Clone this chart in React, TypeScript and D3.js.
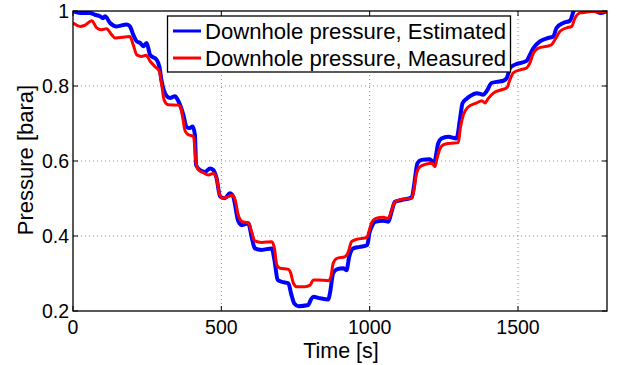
import React from "react";
import * as d3 from "d3";

const measTime = [0,24,40,63,80,97,113,130,142,192,203,215,231,246,260,276,291,299,307,321,355,362,370,378,389,406,415,423,439,456,473,484,493,504,524,535,546,557,571,591,602,613,636,670,679,687,698,726,734,743,754,782,799,810,827,861,869,877,889,917,928,939,956,990,999,1007,1020,1046,1063,1074,1085,1108,1142,1149,1158,1170,1192,1209,1220,1226,1235,1248,1271,1299,1306,1316,1332,1361,1378,1389,1400,1417,1445,1462,1473,1484,1512,1529,1540,1552,1569,1597,1613,1625,1642,1664,1681,1692,1709,1732,1748,1800];
const measValue = [0.968,0.959,0.962,0.974,0.955,0.950,0.953,0.937,0.928,0.932,0.910,0.883,0.879,0.882,0.866,0.852,0.839,0.803,0.763,0.750,0.749,0.745,0.715,0.680,0.670,0.666,0.594,0.576,0.569,0.563,0.567,0.554,0.514,0.501,0.505,0.509,0.498,0.456,0.438,0.435,0.412,0.387,0.383,0.385,0.367,0.323,0.314,0.311,0.301,0.274,0.265,0.265,0.269,0.283,0.283,0.281,0.291,0.327,0.340,0.345,0.358,0.385,0.391,0.396,0.416,0.436,0.447,0.450,0.447,0.469,0.491,0.498,0.501,0.523,0.567,0.585,0.592,0.594,0.585,0.603,0.629,0.643,0.647,0.649,0.690,0.723,0.744,0.755,0.761,0.755,0.767,0.781,0.790,0.795,0.817,0.835,0.844,0.848,0.861,0.888,0.901,0.906,0.910,0.924,0.946,0.955,0.959,0.981,0.995,0.997,0.999,0.999];

const estTime = [0,24,57,74,91,101,108,125,147,181,192,203,215,226,237,248,260,282,291,299,310,327,344,355,372,383,394,403,411,415,428,445,462,473,484,496,512,529,540,557,569,591,602,613,636,670,679,690,703,726,735,746,760,793,801,810,833,861,866,877,889,911,922,931,945,967,992,999,1007,1018,1046,1063,1074,1085,1108,1142,1149,1161,1175,1203,1217,1231,1242,1265,1293,1304,1313,1327,1338,1361,1383,1394,1411,1428,1451,1462,1473,1490,1529,1540,1552,1574,1602,1619,1630,1653,1675,1692,1720,1760,1780,1800];
const estValue = [1.0,0.995,0.995,0.990,0.986,0.981,0.986,0.968,0.959,0.964,0.959,0.937,0.919,0.915,0.906,0.915,0.883,0.870,0.852,0.812,0.781,0.768,0.773,0.760,0.723,0.690,0.688,0.692,0.670,0.589,0.576,0.571,0.580,0.576,0.554,0.505,0.501,0.514,0.505,0.440,0.429,0.434,0.398,0.367,0.363,0.367,0.336,0.283,0.278,0.274,0.247,0.220,0.213,0.216,0.229,0.238,0.234,0.231,0.247,0.301,0.311,0.314,0.309,0.345,0.367,0.371,0.376,0.407,0.425,0.438,0.441,0.438,0.465,0.491,0.496,0.503,0.531,0.594,0.603,0.605,0.594,0.647,0.660,0.665,0.660,0.709,0.754,0.766,0.773,0.781,0.777,0.786,0.808,0.811,0.814,0.821,0.848,0.857,0.867,0.883,0.901,0.919,0.928,0.932,0.955,0.968,0.974,1.005,1.005,1.0,0.995,1.0];

const xTicks = [0, 500, 1000, 1500];
const yTicks = [0.2, 0.4, 0.6, 0.8, 1];
const xTickLabels = ["0", "500", "1000", "1500"];
const yTickLabels = ["0.2", "0.4", "0.6", "0.8", "1"];
const seriesNames = ["Downhole pressure, Estimated", "Downhole pressure, Measured"];
const seriesColors = ["#0000ff", "#ff0000"];

const W = 622, H = 365;
const L = 73, R = 607, T = 11, B = 311;
const FONT = "'Liberation Sans', Arial, Helvetica, sans-serif";

export default function App() {
  const x = d3.scaleLinear().domain([0, 1800]).range([L, R]);
  const y = d3.scaleLinear().domain([0.2, 1]).range([B, T]);
  const line = d3.line<[number, number]>().x(d => x(d[0])).y(d => y(d[1])).curve(d3.curveMonotoneX);
  const est = line(estTime.map((t, i) => [t, estValue[i]] as [number, number])) || "";
  const meas = line(measTime.map((t, i) => [t, measValue[i]] as [number, number])) || "";
  const tickLen = 5;
  return (
    <div style={{ position: "absolute", left: 0, top: 0 }}>
      <svg width={W} height={H} style={{ display: "block", background: "#fff" }} fontFamily={FONT}>
        <defs>
          <clipPath id="plotclip">
            <rect x={L} y={T} width={R - L} height={B - T} />
          </clipPath>
        </defs>
        <rect x={0} y={0} width={W} height={H} fill="#fff" />
        {xTicks.filter(t => t > 0).map(t => (
          <line key={"gx" + t} x1={x(t)} x2={x(t)} y1={T} y2={B} stroke="#8c8c8c" strokeWidth={1} strokeDasharray="1,3" />
        ))}
        {yTicks.filter(t => t > 0.2 && t < 1).map(t => (
          <line key={"gy" + t} x1={L} x2={R} y1={y(t)} y2={y(t)} stroke="#8c8c8c" strokeWidth={1} strokeDasharray="1,3" />
        ))}
        <g clipPath="url(#plotclip)">
          <path d={est} fill="none" stroke={seriesColors[0]} strokeWidth={4} strokeLinejoin="round" />
          <path d={meas} fill="none" stroke={seriesColors[1]} strokeWidth={3} strokeLinejoin="round" />
        </g>
        <rect x={L} y={T} width={R - L} height={B - T} fill="none" stroke="#000" strokeWidth={1.3} />
        {xTicks.map(t => (
          <g key={"tx" + t}>
            <line x1={x(t)} x2={x(t)} y1={B} y2={B - tickLen} stroke="#000" />
            <line x1={x(t)} x2={x(t)} y1={T} y2={T + tickLen} stroke="#000" />
          </g>
        ))}
        {yTicks.map(t => (
          <g key={"ty" + t}>
            <line x1={L} x2={L + tickLen} y1={y(t)} y2={y(t)} stroke="#000" />
            <line x1={R} x2={R - tickLen} y1={y(t)} y2={y(t)} stroke="#000" />
          </g>
        ))}
        {xTicks.map((t, i) => (
          <text key={"lx" + t} x={x(t)} y={334} textAnchor="middle" fontSize={19.5} fill="#000">{xTickLabels[i]}</text>
        ))}
        {yTicks.map((t, i) => (
          <text key={"ly" + t} x={69} y={y(t) + 7} textAnchor="end" fontSize={19.5} fill="#000">{yTickLabels[i]}</text>
        ))}
        <text x={341} y={357.5} textAnchor="middle" fontSize={21.5} fill="#000">Time [s]</text>
        <text transform={`translate(33,160) rotate(-90)`} textAnchor="middle" fontSize={22} fill="#000">Pressure [bara]</text>
        <rect x={167.5} y={16} width={343} height={56} fill="#fff" stroke="#000" strokeWidth={1.3} />
        {seriesNames.map((n, i) => (
          <g key={n}>
            <line x1={173} x2={201} y1={31 + i * 27} y2={31 + i * 27} stroke={seriesColors[i]} strokeWidth={3} />
            <text x={205} y={38.5 + i * 27} fontSize={21.5} fill="#000" textLength={301} lengthAdjust="spacingAndGlyphs">{n}</text>
          </g>
        ))}
      </svg>
    </div>
  );
}
